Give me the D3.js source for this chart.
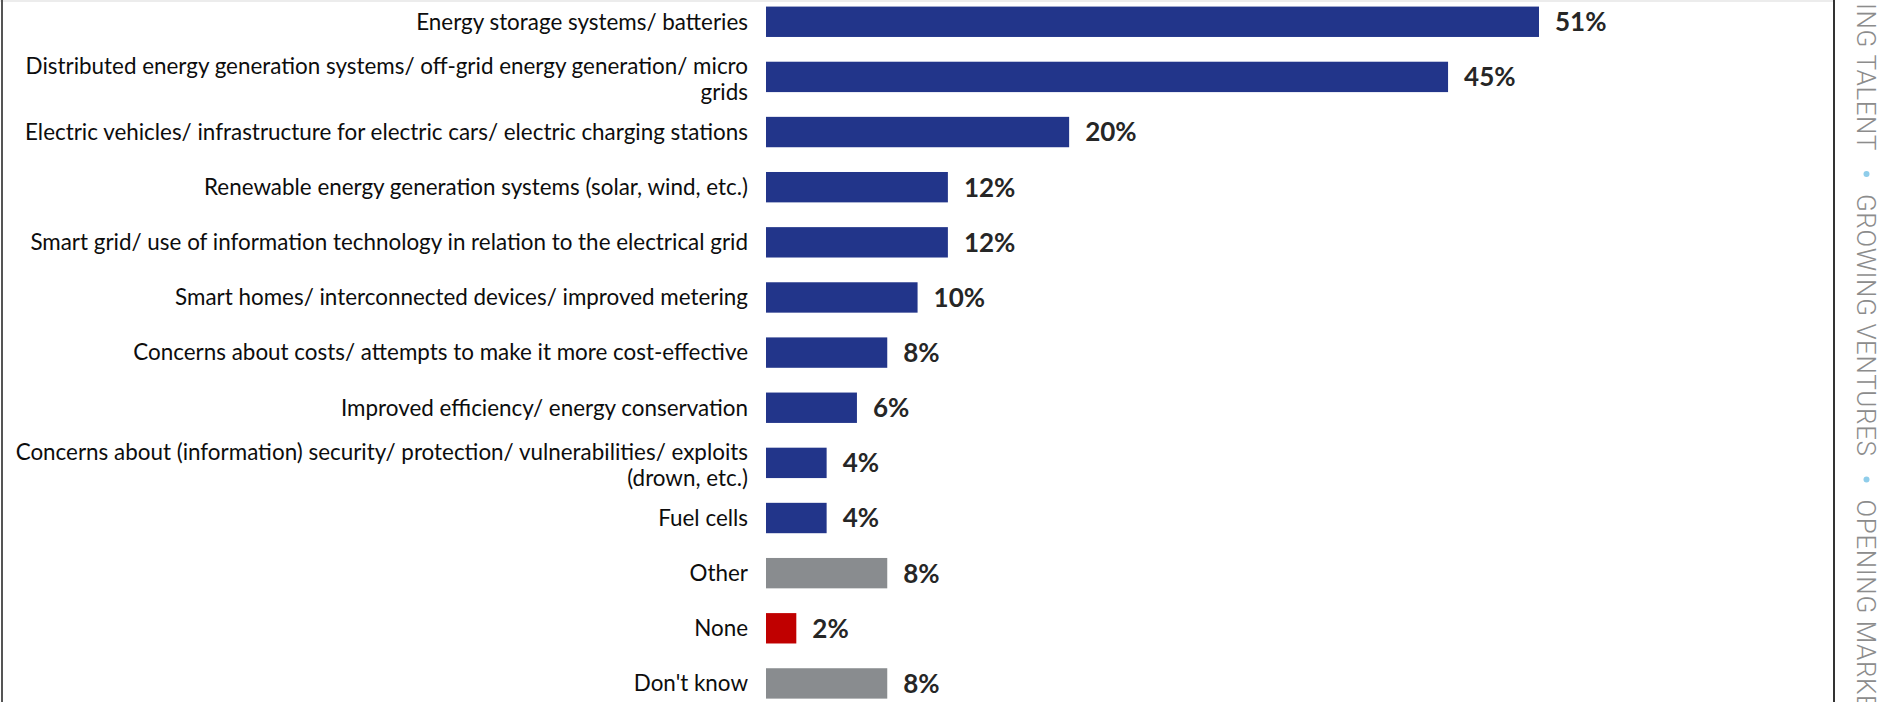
<!DOCTYPE html>
<meta charset="utf-8">
<style>
body { margin: 0; background: #fff; }
svg { display: block; }
.cat { font-family: Lato, "Open Sans", sans-serif; fill: #0d0d0d; }
.val { font-family: Lato, "Open Sans", sans-serif; font-weight: 700; font-size: 26px; fill: #262626; }
.side { font-family: Roboto, sans-serif; font-weight: 300; font-size: 26px; fill: #8c8c8c; letter-spacing: 0.6px; }
</style>
<body>
<script src="https://d3js.org/d3.v7.min.js"></script>
<script>
// answers, top to bottom ("\n" = line break as in the source)
var categories = [
  "Energy storage systems/ batteries",
  "Distributed energy generation systems/ off-grid energy generation/ micro\ngrids",
  "Electric vehicles/ infrastructure for electric cars/ electric charging stations",
  "Renewable energy generation systems (solar, wind, etc.)",
  "Smart grid/ use of information technology in relation to the electrical grid",
  "Smart homes/ interconnected devices/ improved metering",
  "Concerns about costs/ attempts to make it more cost-effective",
  "Improved efficiency/ energy conservation",
  "Concerns about (information) security/ protection/ vulnerabilities/ exploits\n(drown, etc.)",
  "Fuel cells",
  "Other",
  "None",
  "Don't know"
];
var values = [51, 45, 20, 12, 12, 10, 8, 6, 4, 4, 8, 2, 8];
var groups = ["topic","topic","topic","topic","topic","topic","topic","topic","topic","topic","other","none","other"];
var sideWords = ["ING TALENT", "GROWING VENTURES", "OPENING MARKETS"];

var width = 1883, height = 702;
var data = categories.map(function(c, i) { return {cat: c, value: values[i], group: groups[i]}; });

var svg = d3.select("body").append("svg")
    .attr("width", width)
    .attr("height", height);

// frame
svg.append("rect").attr("x", 0).attr("y", 0).attr("width", 1834).attr("height", 2).attr("fill", "#ececec");
svg.append("line").attr("x1", 2).attr("x2", 2).attr("y1", 0).attr("y2", height)
    .attr("stroke", "#555").attr("stroke-width", 2);
svg.append("line").attr("x1", 1834).attr("x2", 1834).attr("y1", 0).attr("y2", height)
    .attr("stroke", "#333").attr("stroke-width", 2);

var x = d3.scaleLinear().domain([0, 51]).range([766, 1539]);
var y = d3.scaleBand().domain(categories).range([-5.8, 711])
    .paddingInner(0.449).paddingOuter(0.2245);
var color = d3.scaleOrdinal().domain(["topic", "other", "none"])
    .range(["#22358a", "#898c8f", "#c00000"]);

svg.selectAll(".bar")
    .data(data)
    .enter().append("rect")
    .attr("class", "bar")
    .attr("x", x(0))
    .attr("y", function(d) { return y(d.cat); })
    .attr("width", function(d) { return x(d.value) - x(0); })
    .attr("height", y.bandwidth())
    .attr("fill", function(d) { return color(d.group); });

svg.selectAll(".val")
    .data(data)
    .enter().append("text")
    .attr("class", "val")
    .attr("x", function(d) { return x(d.value) + 16; })
    .attr("y", function(d) { return y(d.cat) + y.bandwidth() / 2; })
    .attr("dy", "0.36em")
    .text(function(d) { return d.value + "%"; });

// category labels, right aligned against the bars
var labels = svg.selectAll(".cat")
    .data(data)
    .enter().append("text")
    .attr("class", "cat")
    .attr("text-anchor", "end")
    .style("font-size", "20px");

labels.each(function(d) {
  var lines = d.cat.split("\n");
  var cy = y(d.cat) + y.bandwidth() / 2 + (lines.length > 1 ? 2 : 0);
  var t = d3.select(this);
  lines.forEach(function(l, k) {
    t.append("tspan")
      .attr("x", x(0) - 18)
      .attr("y", cy + (k - (lines.length - 1) / 2) * 26)
      .attr("dy", "0.35em")
      .text(l);
  });
});

// fit the label size to the widest line in the source (about 733px)
var widest = labels.filter(function(d, i) { return i === 8; }).select("tspan").node().getComputedTextLength();
var fs = Math.max(17, Math.min(23, 20 * 733 / widest));
labels.style("font-size", fs + "px");

// vertical strap line on the right edge, words laid top to bottom
var strap = svg.append("g").attr("transform", "translate(1857,0) rotate(90)");
var cursor = 3;
sideWords.forEach(function(w, i) {
  if (i > 0) {
    cursor += 23;
    strap.append("circle").attr("cx", cursor).attr("cy", -9.5).attr("r", 3).attr("fill", "#8fcdea");
    cursor += 20;
  }
  var t = strap.append("text").attr("class", "side")
      .attr("x", cursor).attr("y", 0).text(w);
  cursor += t.node().getComputedTextLength();
});
</script>
</body>
